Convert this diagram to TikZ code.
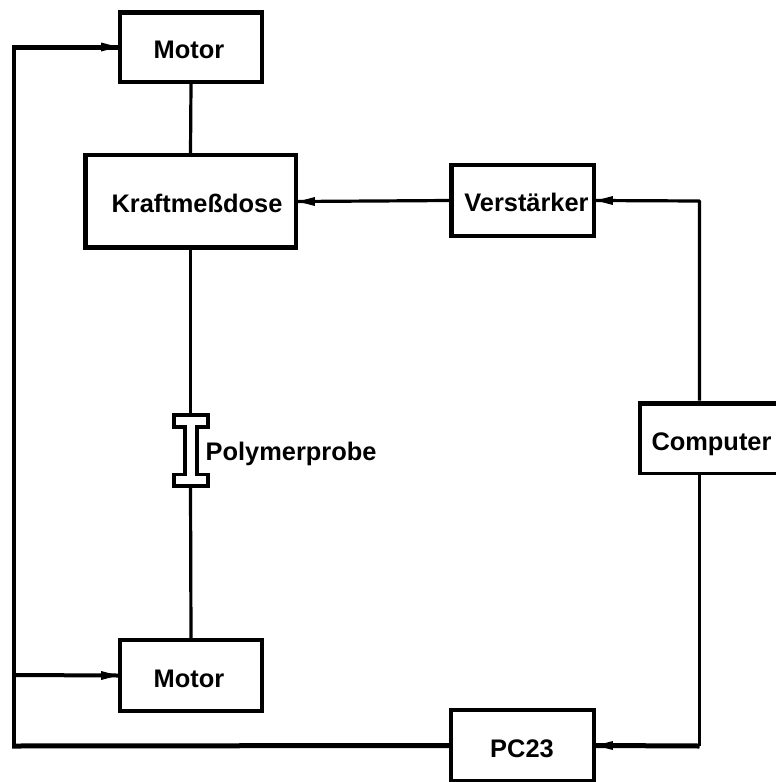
\documentclass[tikz,border=0pt]{standalone}
\usepackage{fontspec}
\setmainfont{Liberation Sans}
\tikzset{
  block/.style={draw=black,fill=white,rectangle,inner sep=0pt,line width=3.8pt},
  lab/.style={inner sep=0pt,font=\bfseries\fontsize{25.4}{28}\selectfont,text=black},
  thin line/.style={draw=black,line width=3.2pt,line join=round},
  thick line/.style={draw=black,line width=5pt,line join=round}
}
\begin{document}
\begin{tikzpicture}[x=1pt,y=-1pt]
\useasboundingbox (0,0) rectangle (776,782);
\coordinate (cSpecTop) at (190.5,415);
\coordinate (cSpecBot) at (190.5,486);
\coordinate (tl) at (14,47);
\coordinate (ml) at (14,675);
\coordinate (bl) at (14,746);
\coordinate (rt) at (699.5,201);
\coordinate (rb) at (699.5,746);
\node[block,minimum width=142pt,minimum height=70pt] (m1) at (191,47) {};
\node[block,minimum width=211pt,minimum height=93pt] (k) at (190.5,201.5) {};
\node[block,minimum width=143pt,minimum height=71pt] (v) at (522.5,200.5) {};
\node[block,minimum width=140pt,minimum height=71pt] (c) at (710,438) {};
\node[block,minimum width=142pt,minimum height=71pt] (m2) at (191,675.5) {};
\node[block,minimum width=143pt,minimum height=71pt] (p) at (522.5,745.5) {};
% heavier edges of the boxes
\fill (m1.north west) rectangle ([yshift=-5.2pt]m1.north east);
\fill (k.north west) rectangle ([xshift=5.2pt]k.south west);
\fill (k.south west) rectangle ([yshift=5.2pt]k.south east);
\fill (v.north west) rectangle ([xshift=5.2pt]v.south west);
\fill (c.north west) rectangle ([yshift=-5.2pt]c.north east);
\node[lab] at (189,50) {Motor};
\node[lab] at (197,203) {Kraftmeßdose};
\node[lab] at (526.5,202.5) {Verstärker};
\node[lab] at (711.5,444) {Computer};
\node[lab] at (189,679) {Motor};
\node[lab] at (522,749) {PC23};
\node[lab,anchor=west] at (205.5,454) {Polymerprobe};
\draw[thin line] (m1.south) -- (k.north);
\draw[thin line] (k.south) -- (cSpecTop);
\draw[thin line] (cSpecBot) -- (m2.north);
\draw[thin line] (v.west) -- (k.east);
\draw[thin line] (c.north -| rt) -- (rt) -- (v.east);
\draw[thin line] (c.south -| rb) -- (rb);
\draw[thick line] (rb) -- (p.east);
\draw[thin line,line width=3.6pt] (bl) -- (tl);
\draw[thick line] ([xshift=-1.8pt]tl) -- (m1.west);
\draw[thin line,line width=4pt] (ml) -- (m2.west);
\draw[thick line] ([xshift=-1.8pt]bl) -- (p.west);
\fill (m1.west) -- ++(-17,-4.5) -- ++(0,9) -- cycle;
\fill (m2.west) -- ++(-17,-4.5) -- ++(0,9) -- cycle;
\fill (k.east) -- ++(17,-4.5) -- ++(0,9) -- cycle;
\fill (v.east) -- ++(17,-4.5) -- ++(0,9) -- cycle;
\fill (p.east) -- ++(17,-4.5) -- ++(0,9) -- cycle;
% specimen
\draw[draw=black,fill=white,line width=3.9pt,line join=miter]
 (174,415) -- (208,415) -- (208,427) -- (197,427) -- (197,474.5) -- (208,474.5) -- (208,486) -- (174,486) -- (174,474.5) -- (185.2,474.5) -- (185.2,427) -- (174,427) -- cycle;
\end{tikzpicture}
\end{document}
